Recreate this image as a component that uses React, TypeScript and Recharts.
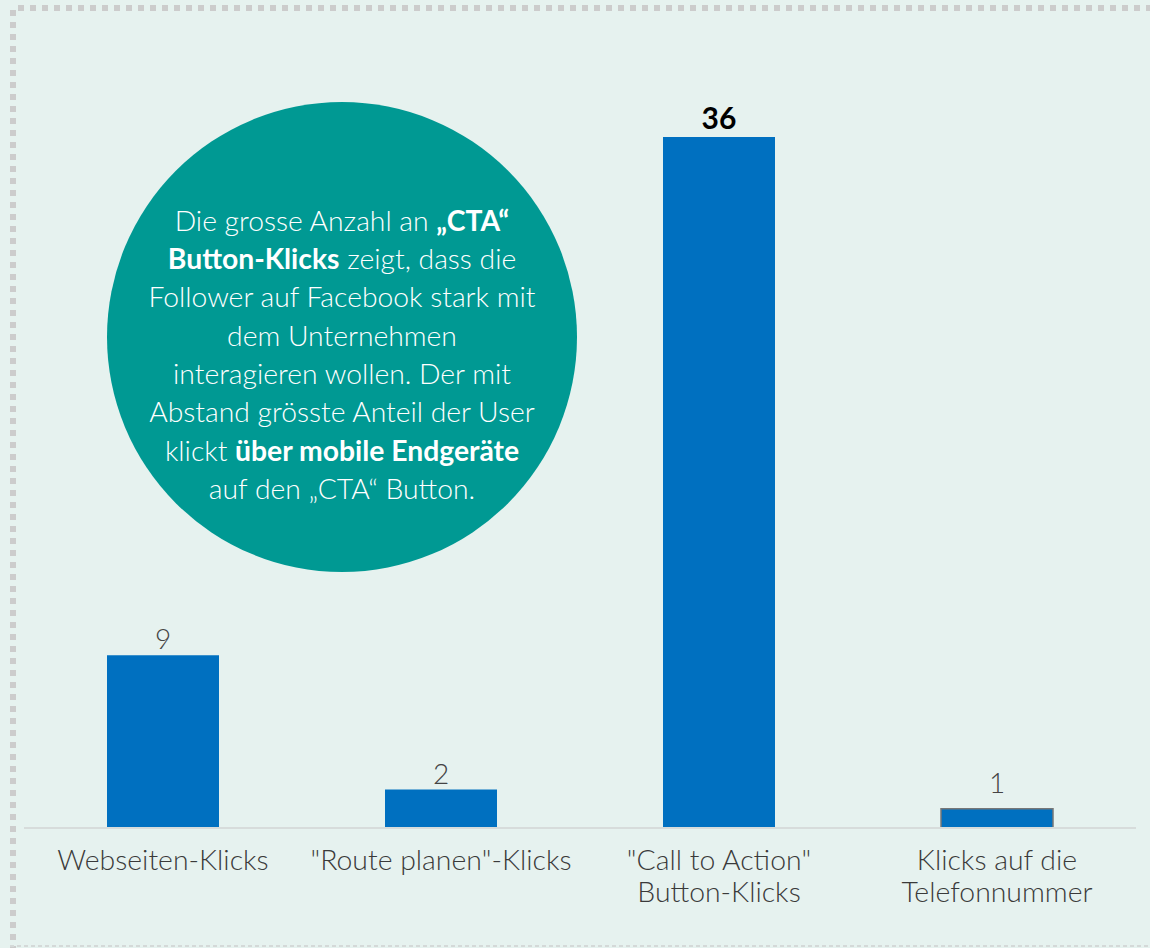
import React from "react";
import { BarChart, Bar, XAxis, YAxis, LabelList, Cell } from "recharts";

const categories = [
  "Webseiten-Klicks",
  "\"Route planen\"-Klicks",
  "\"Call to Action\"\nButton-Klicks",
  "Klicks auf die\nTelefonnummer",
];
const clicks = [9, 2, 36, 1];

const data = categories.map((name, i) => ({ name, value: clicks[i] }));

const FONT = "Lato, 'Open Sans', sans-serif";

const Tick = (props: any) => {
  const { x, y, payload } = props;
  const lines = String(payload.value).split("\n");
  return (
    <text
      x={x}
      y={y + 25}
      textAnchor="middle"
      fill="#3a3a3a"
      fontFamily={FONT}
      fontWeight={300}
      fontSize={28.4}
    >
      {lines.map((l: string, i: number) => (
        <tspan key={i} x={x} dy={i === 0 ? 9 : 32}>
          {l}
        </tspan>
      ))}
    </text>
  );
};

const ValueLabel = (props: any) => {
  const { x, y, width, value, index } = props;
  const big = value === Math.max(...clicks);
  const extra = index === 3 ? 10 : 0;
  return (
    <text
      x={x + width / 2}
      y={y - (big ? 8 : 6) - extra}
      textAnchor="middle"
      fill={big ? "#000" : "#444"}
      fontFamily={FONT}
      fontWeight={big ? 700 : 300}
      fontSize={big ? 30 : 28}
    >
      {value}
    </text>
  );
};

const dots = (dir: string) =>
  `repeating-linear-gradient(${dir}, #cccccc 0px, #cccccc 6px, transparent 6px, transparent 12px)`;

export default function App() {
  return (
    <div
      style={{
        position: "absolute",
        left: 0,
        top: 0,
        width: 1150,
        height: 948,
        background: "#e6f2ef",
        overflow: "hidden",
      }}
    >
      <div style={{ position: "absolute", left: 18, top: 5, width: 1132, height: 6, background: dots("to right") }} />
      <div style={{ position: "absolute", left: 10, top: 10, width: 6, height: 938, background: dots("to bottom") }} />
      <div
        style={{
          position: "absolute",
          left: 10,
          top: 945,
          width: 1140,
          height: 2,
          background: "repeating-linear-gradient(to right, #d4d9d8 0px, #d4d9d8 4px, transparent 4px, transparent 7px)",
        }}
      />
      <div style={{ position: "absolute", left: 0, top: 0 }}>
        <BarChart
          width={1150}
          height={948}
          data={data}
          margin={{ top: 137, right: 14, left: 24, bottom: 0 }}
          barSize={112}
        >
          <XAxis
            dataKey="name"
            height={120}
            axisLine={{ stroke: "#d7dcdb", strokeWidth: 2 }}
            tickLine={false}
            tick={<Tick />}
            interval={0}
          />
          <YAxis hide domain={[0, 36]} />
          <Bar dataKey="value" fill="#0070c0" isAnimationActive={false}>
            {data.map((d, i) => (
              <Cell
                key={i}
                fill="#0070c0"
                stroke={i === 3 ? "#777777" : "none"}
                strokeWidth={i === 3 ? 1.5 : 0}
              />
            ))}
            <LabelList dataKey="value" content={<ValueLabel />} />
          </Bar>
        </BarChart>
      </div>
      <div
        style={{
          position: "absolute",
          left: 107,
          top: 102,
          width: 470,
          height: 470,
          borderRadius: "50%",
          background: "#009993",
          color: "#ffffff",
          display: "flex",
          alignItems: "center",
          justifyContent: "center",
          textAlign: "center",
          fontFamily: FONT,
          fontWeight: 300,
          fontSize: 28.3,
          lineHeight: "38.3px",
          boxSizing: "border-box",
          paddingTop: 34,
        }}
      >
        <div style={{ width: 460, whiteSpace: "nowrap" }}>
          Die grosse Anzahl an <b style={{ fontWeight: 700 }}>„CTA“</b>
          <br />
          <b style={{ fontWeight: 700 }}>Button-Klicks</b> zeigt, dass die
          <br />
          Follower auf Facebook stark mit
          <br />
          dem Unternehmen
          <br />
          interagieren wollen. Der mit
          <br />
          Abstand grösste Anteil der User
          <br />
          klickt <b style={{ fontWeight: 700 }}>über mobile Endgeräte</b>
          <br />
          auf den „CTA“ Button.
        </div>
      </div>
    </div>
  );
}
